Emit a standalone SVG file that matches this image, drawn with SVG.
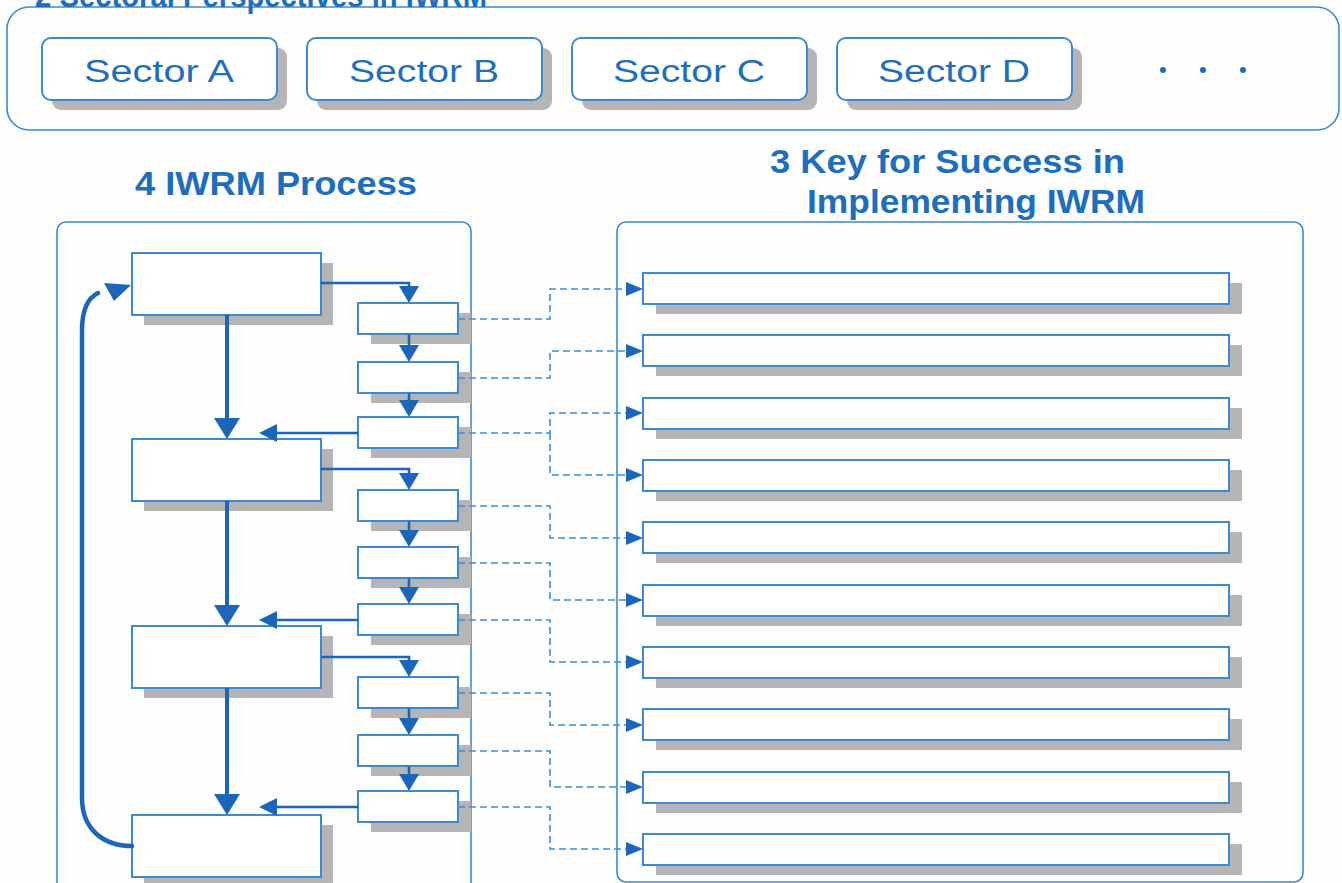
<svg xmlns="http://www.w3.org/2000/svg" width="1342" height="883" viewBox="0 0 1342 883">
<defs>
<style>
.bg{fill:#fdfdfd}
.cont{fill:#fdfdfd;stroke:#3a8ad4;stroke-width:1.6}
.sh{fill:#b4b5b7}
.box{fill:#ffffff;stroke:#3a8ad4;stroke-width:2}
.title{font-family:"Liberation Sans",Arial,sans-serif;font-weight:bold;font-size:33px;fill:#1d6fbe}
.sect{font-family:"Liberation Sans",Arial,sans-serif;font-size:31px;fill:#1d6fbe}
.ar{fill:#1b66b8}
.ln{fill:none;stroke:#1b66b8;stroke-width:2.6}
.lnb{fill:none;stroke:#1b66b8;stroke-width:4}
.dash{fill:none;stroke:#3b8ed6;stroke-width:1.6;stroke-dasharray:7 4}
.dah{fill:#1b66b8}
.dot{fill:#1b6cbc}
</style>
</defs>
<rect class="bg" x="0" y="0" width="1342" height="883"/>

<g id="sectoral-perspectives">
<rect class="cont" x="7" y="7" width="1332" height="123" rx="22"/>
<text class="title" x="35" y="7" textLength="452" lengthAdjust="spacingAndGlyphs">2 Sectoral Perspectives in IWRM</text>
</g>
<g id="sector-a">
<rect class="sh" x="52" y="48" width="235" height="62" rx="9"/>
<rect class="box" x="42" y="38" width="235" height="62" rx="9"/>
<text class="sect" x="84" y="82" textLength="150" lengthAdjust="spacingAndGlyphs">Sector A</text>
</g>
<g id="sector-b">
<rect class="sh" x="317" y="48" width="235" height="62" rx="9"/>
<rect class="box" x="307" y="38" width="235" height="62" rx="9"/>
<text class="sect" x="349" y="82" textLength="150" lengthAdjust="spacingAndGlyphs">Sector B</text>
</g>
<g id="sector-c">
<rect class="sh" x="582" y="48" width="235" height="62" rx="9"/>
<rect class="box" x="572" y="38" width="235" height="62" rx="9"/>
<text class="sect" x="613" y="82" textLength="152" lengthAdjust="spacingAndGlyphs">Sector C</text>
</g>
<g id="sector-d">
<rect class="sh" x="847" y="48" width="235" height="62" rx="9"/>
<rect class="box" x="837" y="38" width="235" height="62" rx="9"/>
<text class="sect" x="878" y="82" textLength="152" lengthAdjust="spacingAndGlyphs">Sector D</text>
</g>
<g id="ellipsis">
<circle class="dot" cx="1163" cy="70" r="3"/>
<circle class="dot" cx="1203" cy="70" r="3"/>
<circle class="dot" cx="1243" cy="70" r="3"/>
</g>

<g id="iwrm-process">
<text class="title" x="135" y="195" textLength="282" lengthAdjust="spacingAndGlyphs">4 IWRM Process</text>
<rect class="cont" x="57" y="222" width="414" height="680" rx="9"/>
</g>
<g id="key-success">
<text class="title" x="770" y="173" textLength="355" lengthAdjust="spacingAndGlyphs">3 Key for Success in</text>
<text class="title" x="807" y="213" textLength="338" lengthAdjust="spacingAndGlyphs">Implementing IWRM</text>
<rect class="cont" x="617" y="222" width="686" height="660" rx="9"/>
</g>

<g id="process-steps">
<g id="step-1"><rect class="sh" x="144" y="263" width="189" height="62"/><rect class="box" x="132" y="253" width="189" height="62"/></g>
<g id="step-2"><rect class="sh" x="144" y="449" width="189" height="62"/><rect class="box" x="132" y="439" width="189" height="62"/></g>
<g id="step-3"><rect class="sh" x="144" y="636" width="189" height="62"/><rect class="box" x="132" y="626" width="189" height="62"/></g>
<g id="step-4"><rect class="sh" x="144" y="825" width="189" height="62"/><rect class="box" x="132" y="815" width="189" height="62"/></g>
</g>

<g id="sub-steps">
<g id="sub-1-1"><rect class="sh" x="371" y="313" width="100" height="31"/><rect class="box" x="358" y="303" width="100" height="31"/></g>
<g id="sub-1-2"><rect class="sh" x="371" y="372" width="100" height="31"/><rect class="box" x="358" y="362" width="100" height="31"/></g>
<g id="sub-1-3"><rect class="sh" x="371" y="427" width="100" height="31"/><rect class="box" x="358" y="417" width="100" height="31"/></g>
<g id="sub-2-1"><rect class="sh" x="371" y="500" width="100" height="31"/><rect class="box" x="358" y="490" width="100" height="31"/></g>
<g id="sub-2-2"><rect class="sh" x="371" y="557" width="100" height="31"/><rect class="box" x="358" y="547" width="100" height="31"/></g>
<g id="sub-2-3"><rect class="sh" x="371" y="614" width="100" height="31"/><rect class="box" x="358" y="604" width="100" height="31"/></g>
<g id="sub-3-1"><rect class="sh" x="371" y="687" width="100" height="31"/><rect class="box" x="358" y="677" width="100" height="31"/></g>
<g id="sub-3-2"><rect class="sh" x="371" y="745" width="100" height="31"/><rect class="box" x="358" y="735" width="100" height="31"/></g>
<g id="sub-3-3"><rect class="sh" x="371" y="801" width="100" height="31"/><rect class="box" x="358" y="791" width="100" height="31"/></g>
</g>

<g id="keys">
<g id="key-1"><rect class="sh" x="656" y="283" width="586" height="31"/><rect class="box" x="643" y="273" width="586" height="31"/></g>
<g id="key-2"><rect class="sh" x="656" y="345" width="586" height="31"/><rect class="box" x="643" y="335" width="586" height="31"/></g>
<g id="key-3"><rect class="sh" x="656" y="408" width="586" height="31"/><rect class="box" x="643" y="398" width="586" height="31"/></g>
<g id="key-4"><rect class="sh" x="656" y="470" width="586" height="31"/><rect class="box" x="643" y="460" width="586" height="31"/></g>
<g id="key-5"><rect class="sh" x="656" y="532" width="586" height="31"/><rect class="box" x="643" y="522" width="586" height="31"/></g>
<g id="key-6"><rect class="sh" x="656" y="595" width="586" height="31"/><rect class="box" x="643" y="585" width="586" height="31"/></g>
<g id="key-7"><rect class="sh" x="656" y="657" width="586" height="31"/><rect class="box" x="643" y="647" width="586" height="31"/></g>
<g id="key-8"><rect class="sh" x="656" y="719" width="586" height="31"/><rect class="box" x="643" y="709" width="586" height="31"/></g>
<g id="key-9"><rect class="sh" x="656" y="782" width="586" height="31"/><rect class="box" x="643" y="772" width="586" height="31"/></g>
<g id="key-10"><rect class="sh" x="656" y="844" width="586" height="31"/><rect class="box" x="643" y="834" width="586" height="31"/></g>
</g>

<g id="connectors">
<path class="lnb" d="M227,315 V420"/><polygon class="ar" points="214,418 240,418 227,439"/>
<path class="lnb" d="M227,501 V607"/><polygon class="ar" points="214,605 240,605 227,626"/>
<path class="lnb" d="M227,688 V796"/><polygon class="ar" points="214,794 240,794 227,815"/>
<path fill="none" stroke="#1b66b8" stroke-width="4.5" stroke-linecap="round" d="M132,846 C102,846 82,828 82,798 V330 C82,310 88,298 98,293"/>
<polygon class="ar" points="104,283 131,285 114,301"/>
<path class="ln" d="M321,283 H409 V288"/><polygon class="ar" points="399,286 419,286 409,303"/>
<path class="ln" d="M409,334 V347"/><polygon class="ar" points="399,345 419,345 409,362"/>
<path class="ln" d="M409,393 V402"/><polygon class="ar" points="399,400 419,400 409,417"/>
<path class="ln" d="M358,433 H276"/><polygon class="ar" points="277,424 277,442 259,433"/>
<path class="ln" d="M321,469 H409 V475"/><polygon class="ar" points="399,473 419,473 409,490"/>
<path class="ln" d="M409,521 V532"/><polygon class="ar" points="399,530 419,530 409,547"/>
<path class="ln" d="M409,578 V589"/><polygon class="ar" points="399,587 419,587 409,604"/>
<path class="ln" d="M358,620 H276"/><polygon class="ar" points="277,611 277,629 259,620"/>
<path class="ln" d="M321,657 H409 V662"/><polygon class="ar" points="399,660 419,660 409,677"/>
<path class="ln" d="M409,708 V720"/><polygon class="ar" points="399,718 419,718 409,735"/>
<path class="ln" d="M409,766 V776"/><polygon class="ar" points="399,774 419,774 409,791"/>
<path class="ln" d="M358,807 H276"/><polygon class="ar" points="277,798 277,816 259,807"/>
<path class="dash" d="M458,319 H550 V289 H627"/><polygon class="dah" points="626,282 643,289 626,296"/>
<path class="dash" d="M458,378 H550 V351 H627"/><polygon class="dah" points="626,344 643,351 626,358"/>
<path class="dash" d="M458,433 H550 V413 H627"/><polygon class="dah" points="626,406 643,413 626,420"/>
<path class="dash" d="M550,433 V475 H627"/><polygon class="dah" points="626,468 643,475 626,482"/>
<path class="dash" d="M458,506 H550 V538 H627"/><polygon class="dah" points="626,531 643,538 626,545"/>
<path class="dash" d="M458,563 H550 V600 H627"/><polygon class="dah" points="626,593 643,600 626,607"/>
<path class="dash" d="M458,620 H550 V662 H627"/><polygon class="dah" points="626,655 643,662 626,669"/>
<path class="dash" d="M458,693 H550 V725 H627"/><polygon class="dah" points="626,718 643,725 626,732"/>
<path class="dash" d="M458,751 H550 V787 H627"/><polygon class="dah" points="626,780 643,787 626,794"/>
<path class="dash" d="M458,807 H550 V849 H627"/><polygon class="dah" points="626,842 643,849 626,856"/>
</g>
</svg>
